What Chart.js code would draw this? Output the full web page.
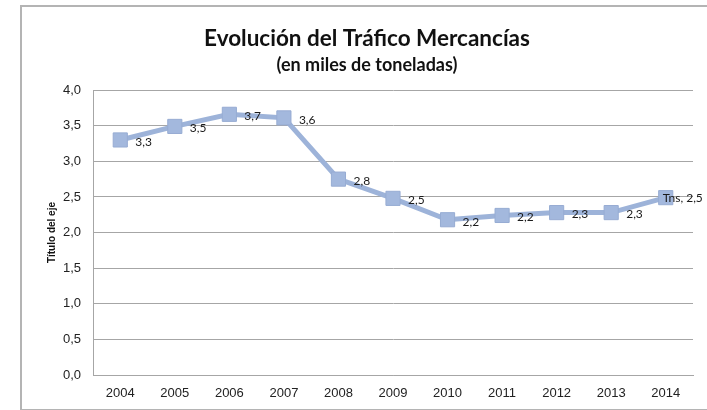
<!DOCTYPE html>
<html>
<head>
<meta charset="utf-8">
<script src="https://cdn.jsdelivr.net/npm/chart.js@4/dist/chart.umd.min.js"></script>
<style>
  html, body { margin: 0; padding: 0; background: #fff; overflow: hidden; }
  #frame {
    position: absolute;
    left: 20px;
    top: 5px;
    width: 690px;
    height: 402px;
    border: 2px solid #b4b4b4;
    border-right: none;
  }
</style>
</head>
<body>
<div id="frame"><canvas id="chart" width="690" height="400"></canvas></div>
<script>
const years = ['2004', '2005', '2006', '2007', '2008', '2009', '2010', '2011', '2012', '2013', '2014'];
const tns = [3.30, 3.49, 3.66, 3.61, 2.75, 2.48, 2.18, 2.24, 2.28, 2.28, 2.49];
const seriesName = 'Tns';
const yTicks = [0, 0.5, 1, 1.5, 2, 2.5, 3, 3.5, 4];

function fmt(v) {
  return v.toFixed(1).replace('.', ',');
}

// point labels to the right of each marker, like excel
const pointLabels = {
  id: 'pointLabels',
  afterDatasetsDraw(chart) {
    const ctx = chart.ctx;
    const meta = chart.getDatasetMeta(0);
    ctx.save();
    ctx.font = '12px Lato';
    ctx.fillStyle = '#1a1a1a';
    ctx.textBaseline = 'middle';
    meta.data.forEach((pt, i) => {
      let text = fmt(tns[i]);
      if (i == tns.length - 1) text = seriesName + ', ' + text;
      const w = ctx.measureText(text).width;
      let x = pt.x + 15;
      let y = pt.y + 2;
      if (x + w > chart.chartArea.right) {
        x = pt.x - 3;
        y = pt.y;
      }
      ctx.fillText(text, x, y);
    });
    ctx.restore();
  }
};

const ctx = document.getElementById('chart').getContext('2d');
const chart = new Chart(ctx, {
  type: 'line',
  data: {
    labels: years,
    datasets: [{
      label: seriesName,
      data: tns,
      yAxisID: 'y',
      borderColor: '#9db3d9',
      backgroundColor: '#a3b8dd',
      borderWidth: 5,
      pointStyle: 'rect',
      pointRadius: 10,
      pointBorderWidth: 1,
      pointBorderColor: '#97acd3',
      pointBackgroundColor: '#a3b8dd',
      tension: 0
    }]
  },
  options: {
    responsive: false,
    animation: false,
    events: [],
    layout: { padding: 0 },
    plugins: {
      legend: { display: false },
      tooltip: { enabled: false },
      title: {
        display: true,
        text: 'Evolución del Tráfico Mercancías',
        color: '#111',
        font: { family: 'Lato', size: 22.5, weight: 'bold' },
        padding: { top: 18.5, bottom: 0 }
      },
      subtitle: {
        display: true,
        text: '(en miles de toneladas)',
        color: '#111',
        font: { family: 'Lato', size: 18, weight: 'bold' },
        padding: { top: 1.5, bottom: 14.5 }
      }
    },
    scales: {
      x: {
        offset: true,
        grid: { display: false, drawTicks: false },
        border: { display: true, color: '#a6a6a6', width: 1 },
        ticks: {
          color: '#222',
          font: { family: 'Liberation Sans', size: 13 },
          padding: 11,
          maxRotation: 0
        },
        afterFit(scale) { scale.height = 32; }
      },
      y: {
        min: 0,
        max: 4,
        afterBuildTicks(scale) {
          scale.ticks = yTicks.map(v => ({ value: v }));
        },
        grid: { color: '#a6a6a6', lineWidth: 1, drawTicks: false },
        border: { display: true, color: '#a6a6a6', width: 1 },
        ticks: {
          color: '#222',
          font: { family: 'Liberation Sans', size: 13 },
          padding: 12,
          callback: (v) => fmt(v)
        },
        title: {
          display: true,
          text: 'Título del eje',
          color: '#111',
          font: { family: 'Liberation Sans', size: 10, weight: 'bold' },
          padding: { top: 24, bottom: 0 }
        },
        afterFit(scale) { scale.width = 71; }
      },
      // empty right axis, only keeps a margin so the title stays centred on the frame
      yRight: {
        position: 'right',
        min: 0,
        max: 4,
        grid: { display: false },
        border: { display: false },
        ticks: { display: false },
        afterFit(scale) { scale.width = 19; }
      }
    }
  },
  plugins: [pointLabels]
});
</script>
</body>
</html>
